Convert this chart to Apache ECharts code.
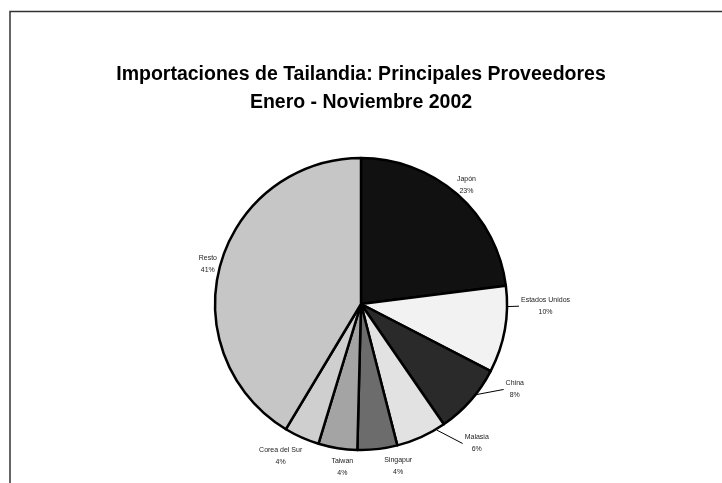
<!DOCTYPE html>
<html>
<head>
<meta charset="utf-8">
<script src="https://cdn.jsdelivr.net/npm/echarts@6/dist/echarts.min.js"></script>
<style>
  html, body { margin: 0; padding: 0; background: #fff; overflow: hidden; }
  #main { width: 722px; height: 483px; }
</style>
</head>
<body>
<div id="main"></div>
<script>
// datos: participación (%) en las importaciones, ene-nov 2002
const paises = ['Japón', 'Estados Unidos', 'China', 'Malasia', 'Singapur', 'Taiwan', 'Corea del Sur', 'Resto'];
const participacion = [23.0, 9.6, 7.8, 5.6, 4.4, 4.3, 3.9, 41.4];

// estilo de cada porción (tonos de gris como el original)
const colores = ['#111111', '#f2f2f2', '#2a2a2a', '#e2e2e2', '#6c6c6c', '#a4a4a4', '#cfcfcf', '#c6c6c6'];
// desplazamiento de las etiquetas respecto a la posición radial
const ajusteEtiqueta = [[-1, 2], [26, -26], [33, -21], [49, -7], [19, 2], [7, 4], [-15, 5], [2, 3]];
// ángulo (grados, desde las 12 en sentido horario) donde arranca la línea guía
const lineaGuia = [null, 91, 128, 149, null, null, null, null];

const cx = 361, cy = 304, R = 146, sep = 15;

const total = participacion.reduce((a, b) => a + b, 0);
const medios = [];
let acum = 0;
participacion.forEach(v => {
  medios.push((acum + v / 2) / total * Math.PI * 2);
  acum += v;
});

const chart = echarts.init(document.getElementById('main'));

const option = {
  backgroundColor: '#fff',
  animation: false,
  title: {
    text: 'Importaciones de Tailandia: Principales Proveedores\nEnero - Noviembre 2002',
    left: 'center',
    top: 61,
    padding: 0,
    textStyle: {
      fontFamily: 'Arial, "Liberation Sans"',
      fontSize: 19.5,
      fontWeight: 'bold',
      lineHeight: 28,
      color: '#000'
    }
  },
  graphic: [{
    type: 'rect',
    silent: true,
    z: -10,
    shape: { x: 10, y: 11.5, width: 760, height: 520 },
    style: { fill: 'none', stroke: '#333', lineWidth: 1.5 }
  }],
  series: [{
    type: 'pie',
    center: [cx, cy],
    radius: R,
    startAngle: 90,
    clockwise: true,
    avoidLabelOverlap: false,
    data: paises.map((p, i) => ({
      name: p,
      value: participacion[i],
      itemStyle: { color: colores[i] },
      labelLine: { show: lineaGuia[i] !== null }
    })),
    itemStyle: {
      borderColor: '#000',
      borderWidth: 2.5
    },
    label: {
      show: true,
      position: 'outside',
      fontFamily: 'Arial, "Liberation Sans"',
      fontSize: 7,
      lineHeight: 12,
      color: '#222',
      formatter: function (params) {
        return params.name + '\n' + Math.round(params.percent) + '%';
      }
    },
    labelLine: {
      show: true,
      length: 6,
      length2: 4,
      lineStyle: { color: '#000', width: 1 }
    },
    labelLayout: function (params) {
      const i = params.dataIndex;
      const a = medios[i];
      const x = cx + (R + sep) * Math.sin(a) + ajusteEtiqueta[i][0];
      const y = cy - (R + sep) * Math.cos(a) + ajusteEtiqueta[i][1];
      const out = { x: x, y: y, align: 'center', verticalAlign: 'middle' };
      if (lineaGuia[i] !== null) {
        const g = lineaGuia[i] * Math.PI / 180;
        const left = x - params.labelRect.width / 2 - 2;
        out.labelLinePoints = [
          [cx + (R + 1) * Math.sin(g), cy - (R + 1) * Math.cos(g)],
          [left, y],
          [left, y]
        ];
      }
      return out;
    }
  }]
};

chart.setOption(option);
</script>
</body>
</html>
